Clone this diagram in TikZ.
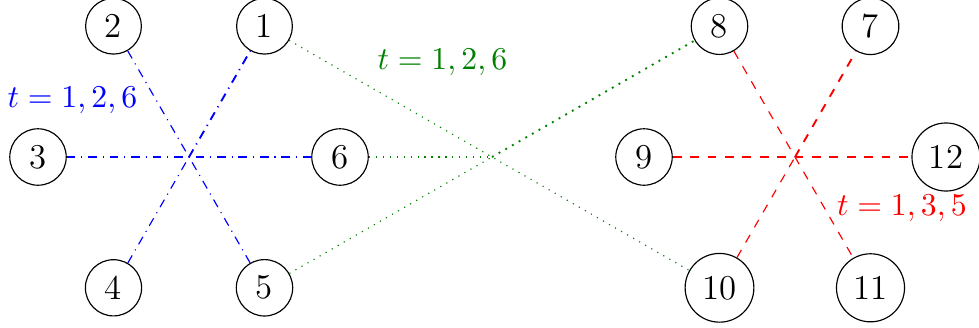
\documentclass[tikz,border=0pt]{standalone}
\begin{document}
\begin{tikzpicture}[x=0.3448pt,y=-0.3448pt,
  vtx/.style={draw,circle,font=\large,line width=0.4pt},
  bl/.style={blue,dash dot},
  gr/.style={green!50!black,dotted},
  rd/.style={red,dashed},
  dark/.style={line width=0.65pt},
  lab/.style={font=\fontsize{11}{13}\selectfont}]
\useasboundingbox (0,0) rectangle (979,327);
\coordinate (cL) at (189,157);
\coordinate (cG) at (492,157);
\coordinate (cR) at (795,157);
\node[vtx] (n1) at (264.5,26.2) {1};
\node[vtx] (n2) at (113.5,26.2) {2};
\node[vtx] (n3) at (38,157) {3};
\node[vtx] (n4) at (113.5,287.8) {4};
\node[vtx] (n5) at (264.5,287.8) {5};
\node[vtx] (n6) at (340,157) {6};
\node[vtx] (n8) at (719.5,26.2) {8};
\node[vtx] (n7) at (870.5,26.2) {7};
\node[vtx] (n9) at (644,157) {9};
\node[vtx] (n12) at (946,157) {12};
\node[vtx] (n10) at (719.5,287.8) {10};
\node[vtx] (n11) at (870.5,287.8) {11};
% blue
\draw[bl] (n4) -- (cL);
\draw[bl,dark] (cL) -- (n1);
\draw[bl] (n2) -- (n5);
\draw[bl] (n3) -- (n6);
% green
\draw[gr] (n1) -- (n10);
\draw[gr] (n5) -- (cG);
\draw[gr,dark] (cG) -- (n8);
\draw[gr] (n6) -- (cG);
% red
\draw[rd] (n8) -- (n11);
\draw[rd] (n10) -- (cR);
\draw[rd,dark] (cR) -- (n7);
\draw[rd] (n9) -- (n12);
% labels
\node[lab,text=blue] (lb) at (72.5,100.4) {$t=1,2,6$};
\node[lab,text=green!50!black] (lg) at (442.5,62.7) {$t=1,2,6$};
\node[lab,text=red] (lr) at (902,208.5) {$t=1,3,5$};
\end{tikzpicture}
\end{document}
